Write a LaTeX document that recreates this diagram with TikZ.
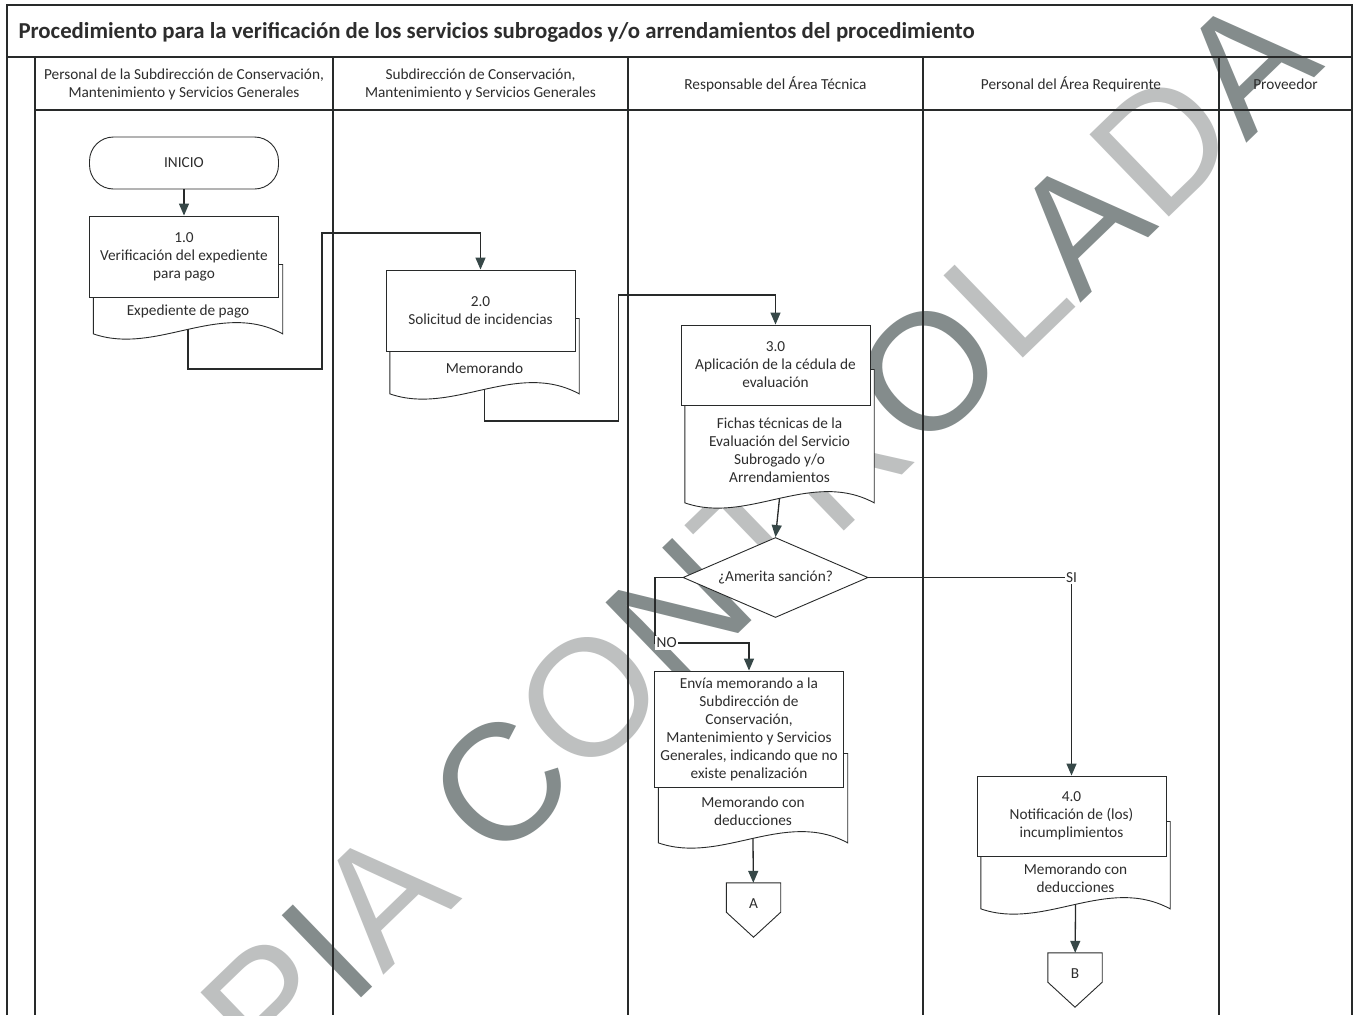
\documentclass[tikz,border=0pt]{standalone}
\usepackage{fontspec}
\setmainfont{Carlito}
\newfontfamily\wmfont{Liberation Sans}
\usepackage{tikz}
\usetikzlibrary{arrows.meta,positioning,shapes.geometric,calc}
\definecolor{txtgray}{RGB}{45,45,45}
\definecolor{linegray}{RGB}{40,42,42}
\definecolor{tipgray}{RGB}{55,72,72}
\definecolor{wmdark}{RGB}{132,140,140}
\definecolor{wmlight}{RGB}{190,192,192}
\pgfdeclarelayer{background}
\pgfsetlayers{background,main}

\begin{document}
\begin{tikzpicture}[x=1pt, y=-1pt,
  txt/.style={font=\fontsize{15.3}{18}\selectfont, text=txtgray, align=center, inner sep=1pt},
  lane/.style={draw=linegray, line width=1.1pt},
  box/.style={txt, draw=linegray, fill=white, line width=0.9pt, minimum width=189pt},
  proc/.style={box, minimum height=80pt},
  doc/.style={txt, minimum width=189pt, inner sep=0pt},
  offp/.style={txt, minimum width=54pt, minimum height=54pt, text depth=12pt, inner sep=0pt},
  flow/.style={draw=linegray, line width=1.3pt, -{Triangle[width=10pt,length=12pt,color=tipgray]}},
  lbl/.style={txt, fill=white, inner sep=1pt}]

\useasboundingbox (0,0) rectangle (1359,1015);

\draw[lane] (7,1015) -- (7,5) -- (1352,5) -- (1352,1015);
\draw[lane] (7,57) -- (1352,57);
\draw[lane] (35,110) -- (1352,110);
\foreach \x in {35,333,628,923,1219}
  \draw[lane] (\x,57) -- (\x,1015);

\node[anchor=west, font=\bfseries\fontsize{22.8}{26}\selectfont, text=txtgray] (titulo) at (15,32)
  {Procedimiento para la verificación de los servicios subrogados y/o arrendamientos del procedimiento};

\node[txt] (carril1) at (184,84) {Personal de la Subdirección de Conservación,\\Mantenimiento y Servicios Generales};
\node[txt] (carril2) at (480.5,84) {Subdirección de Conservación,\\Mantenimiento y Servicios Generales};
\node[txt] (carril3) at (775.5,84) {Responsable del Área Técnica};
\node[txt] (carril4) at (1071,84) {Personal del Área Requirente};
\node[txt] (carril5) at (1285.5,84) {Proveedor};

\node[box, minimum height=52pt, rounded corners=24pt] (inicio) at (184,163) {INICIO};
\node[proc, minimum height=81pt] (p1) at (184,256.5) {1.0\\Verificación del expediente\\para pago};
\node[doc, minimum height=28pt, below=0pt of p1, xshift=4pt] (d1) {Expediente de pago};

\node[proc, minimum height=81pt] (p2) at (480.5,310.5) {2.0\\Solicitud de incidencias};
\node[doc, minimum height=34pt, below=0pt of p2, xshift=4pt] (d2) {Memorando};

\node[proc] (p3) at (775.5,365) {3.0\\Aplicación de la cédula de\\evaluación};
\node[doc, minimum height=89pt, below=0pt of p3, xshift=4pt] (d3)
  {Fichas técnicas de la\\Evaluación del Servicio\\Subrogado y/o\\Arrendamientos};

\node[txt, diamond, draw=linegray, fill=white, line width=0.9pt, aspect=2.3, inner sep=0pt,
  minimum width=185pt, minimum height=80pt] (amerita) at (775.5,577.5) {¿Amerita sanción?};

\node[box, minimum height=116pt] (envia) at (749,729)
  {Envía memorando a la\\Subdirección de\\Conservación,\\Mantenimiento y Servicios\\Generales, indicando que no\\existe penalización};
\node[doc, minimum height=47pt, below=0pt of envia, xshift=4pt] (d4) {Memorando con\\deducciones};
\node[offp] (offA) at (753.5,910) {A};

\node[proc] (p4) at (1071.5,816) {4.0\\Notificación de (los)\\incumplimientos};
\node[doc, minimum height=44pt, below=0pt of p4, xshift=4pt] (d5) {Memorando con\\deducciones};
\node[offp] (offB) at (1075,980) {B};

\draw[flow] (inicio) -- (p1);
\draw[flow] ([yshift=-3.5pt]d1.south) -- ++(0,39.5) -| ++(134,-136) -| (p2.north);
\draw[flow] ([yshift=-3.5pt]d2.south) -- ++(0,31.5) -| ++(134,-126) -| (p3.north);
\draw[flow] ([yshift=-3.5pt]d3.south) -- (amerita.north);
\coordinate (no) at (655,643);
\draw[flow] (amerita.west) -| (no) -| (envia.north);
\node[lbl, anchor=west, inner sep=1.5pt] (nolbl) at (no) {NO};
\draw[flow] (amerita.east) -| node[lbl] (si) {SI} (p4.north);
\draw[flow] ([yshift=-3.5pt]d4.south) -- (offA);
\draw[flow] ([yshift=-3.5pt]d5.south) -- (offB);

\begin{pgfonlayer}{background}
\fill[white] (0,0) rectangle (1359,1015);
\begin{scope}
  \clip (7,5) rectangle (1352,1015);
  \node[anchor=base east, rotate=44, inner sep=0pt, font=\wmfont\fontsize{166}{166}\selectfont] (marca) at (1326,66)
    {\color{wmlight}C\color{wmdark}O\color{wmlight}P\color{wmdark}I\color{wmlight}A
     \color{wmdark}C\color{wmlight}O\color{wmdark}N\color{wmlight}T\color{wmlight}R\color{wmdark}O\color{wmlight}L\color{wmdark}A\color{wmlight}D\color{wmdark}A};
\end{scope}
\foreach \n/\u in {d1/33,d2/33,d3/36,d4/34,d5/35}
  \draw[line width=0.9pt, draw=linegray, fill=white]
    ([yshift=\u pt]\n.north west) -- ([yshift=-8pt]\n.south west)
    .. controls +(63,22) and +(-63,-34) .. ([yshift=-8pt]\n.south east)
    -- ([yshift=\u pt]\n.north east) -- cycle;
\foreach \n in {offA,offB}
  \draw[line width=0.9pt, draw=linegray, fill=white]
    (\n.north west) -- (\n.north east) -- ([yshift=25pt]\n.south east)
    -- (\n.south) -- ([yshift=25pt]\n.south west) -- cycle;
\end{pgfonlayer}
\end{tikzpicture}
\end{document}
